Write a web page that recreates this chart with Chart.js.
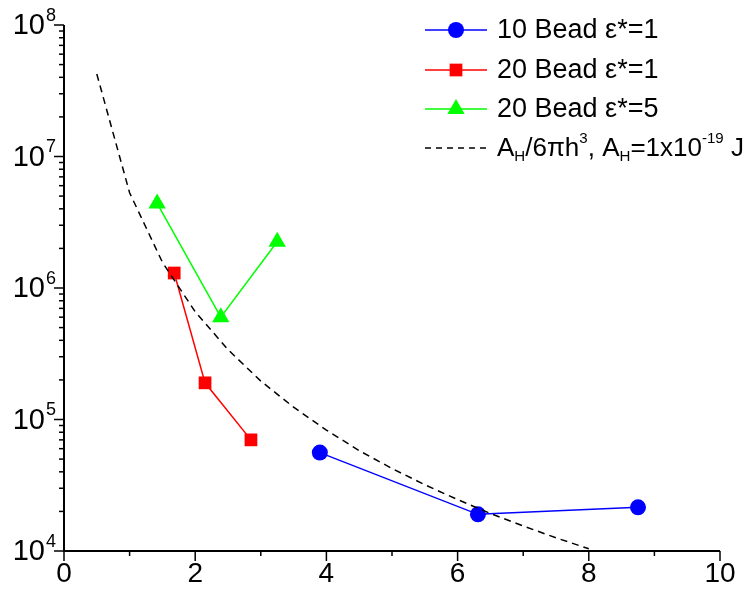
<!DOCTYPE html>
<html>
<head>
<meta charset="UTF-8">
<title>Pressao x distancia</title>
<script src="https://cdn.jsdelivr.net/npm/chart.js"></script>
<style>
    html, body { margin: 0; padding: 0; background: #fff; }
    #graficoContainer { width: 755px; height: 595px; }
</style>
</head>
<body>
<div id="graficoContainer">
    <canvas id="myChart" width="755" height="595"></canvas>
</div>
<script>
// dados
const bead10X = [3.90, 6.31, 8.75];
const bead10Y = [5.6e4, 1.9e4, 2.15e4];

const bead20X = [1.68, 2.15, 2.85];
const bead20Y = [1.3e6, 1.9e5, 7.0e4];

const bead20e5X = [1.42, 2.39, 3.25];
const bead20e5Y = [4.4e6, 6.0e5, 2.25e6];

// curva tracejada A_H/6*pi*h^3
const teoriaX = [0.5, 1.0, 1.5, 2.0, 2.5, 3.0, 3.5, 4.0, 4.5, 5.0, 5.5, 6.0, 6.5, 7.0, 7.5, 8.0];
const teoriaY = [4.24e7, 5.3e6, 1.57e6, 6.6e5, 3.4e5, 1.96e5, 1.24e5, 8.3e4, 5.8e4, 4.24e4, 3.19e4, 2.46e4, 1.93e4, 1.55e4, 1.26e4, 1.04e4];

const xTicks = [0, 2, 4, 6, 8, 10];
const xMinor = [1, 3, 5, 7, 9];
const yExpoentes = [4, 5, 6, 7, 8];

function pares(xs, ys) {
    return xs.map((x, i) => ({ x: x, y: ys[i] }));
}

const FONTE = '"Liberation Sans", Arial, sans-serif';

// desenha texto com sub/sobrescrito
function textoRico(ctx, partes, x, y, tam) {
    let cx = x;
    partes.forEach(p => {
        let t = tam, dy = 0;
        if (p.sub) { t = tam * 0.58; dy = tam * 0.3; }
        if (p.sup) { t = tam * 0.58; dy = -tam * 0.38; }
        ctx.font = t + 'px ' + FONTE;
        ctx.fillText(p.t, cx, y + dy);
        cx += ctx.measureText(p.t).width;
    });
}

const legenda = [
    { cor: '#0000ff', estilo: 'circle', raio: 8, tam: 27, tracejado: false, partes: [{ t: '10 Bead \u03b5*=1' }] },
    { cor: '#ff0000', estilo: 'rect', raio: 9, tam: 27, tracejado: false, partes: [{ t: '20 Bead \u03b5*=1' }] },
    { cor: '#00ff00', estilo: 'triangle', raio: 10, tam: 27, tracejado: false, partes: [{ t: '20 Bead \u03b5*=5' }] },
    { cor: '#000000', estilo: null, raio: 0, tam: 26, tracejado: true, partes: [
        { t: 'A' }, { t: 'H', sub: true }, { t: '/6\u03c0h' }, { t: '3', sup: true },
        { t: ', A' }, { t: 'H', sub: true }, { t: '=1x10' }, { t: '-19', sup: true }, { t: ' J' }
    ] }
];

const eixosPlugin = {
    id: 'eixos',
    afterDraw(chart) {
        const ctx = chart.ctx;
        const xs = chart.scales.x;
        const ys = chart.scales.y;
        const area = chart.chartArea;
        ctx.save();
        ctx.strokeStyle = '#000';
        ctx.fillStyle = '#000';
        ctx.lineWidth = 2;
        // linhas dos eixos
        ctx.beginPath();
        ctx.moveTo(area.left, area.top);
        ctx.lineTo(area.left, area.bottom);
        ctx.lineTo(area.right, area.bottom);
        ctx.stroke();

        // ticks do eixo x
        ctx.lineWidth = 1.5;
        xTicks.forEach(v => {
            const px = xs.getPixelForValue(v);
            ctx.beginPath();
            ctx.moveTo(px, area.bottom);
            ctx.lineTo(px, area.bottom + 10);
            ctx.stroke();
        });
        xMinor.forEach(v => {
            const px = xs.getPixelForValue(v);
            ctx.beginPath();
            ctx.moveTo(px, area.bottom);
            ctx.lineTo(px, area.bottom + 5);
            ctx.stroke();
        });
        ctx.font = '28px ' + FONTE;
        ctx.textAlign = 'center';
        ctx.textBaseline = 'top';
        xTicks.forEach(v => {
            ctx.fillText(String(v), xs.getPixelForValue(v), area.bottom + 9);
        });

        // ticks do eixo y (log)
        yExpoentes.forEach(e => {
            const py = ys.getPixelForValue(Math.pow(10, e));
            ctx.beginPath();
            ctx.moveTo(area.left, py);
            ctx.lineTo(area.left - 10, py);
            ctx.stroke();
            if (e < 8) {
                for (let m = 2; m <= 9; m++) {
                    const pm = ys.getPixelForValue(m * Math.pow(10, e));
                    ctx.beginPath();
                    ctx.moveTo(area.left, pm);
                    ctx.lineTo(area.left - 5, pm);
                    ctx.stroke();
                }
            }
        });
        ctx.textAlign = 'left';
        ctx.textBaseline = 'middle';
        yExpoentes.forEach(e => {
            const py = ys.getPixelForValue(Math.pow(10, e));
            ctx.font = '29px ' + FONTE;
            const w = ctx.measureText('10').width;
            ctx.font = '18px ' + FONTE;
            const we = ctx.measureText(String(e)).width;
            const x0 = area.left - 9 - we - w;
            ctx.font = '29px ' + FONTE;
            ctx.fillText('10', x0, py + 1);
            ctx.font = '18px ' + FONTE;
            ctx.fillText(String(e), x0 + w + 1, py - 9);
        });

        // legenda
        const lx0 = 425, lx1 = 487, tx = 497;
        const linhas = [30, 70, 109, 148];
        legenda.forEach((it, i) => {
            const y = linhas[i];
            ctx.strokeStyle = it.cor;
            ctx.fillStyle = it.cor;
            ctx.lineWidth = 1.5;
            ctx.setLineDash(it.tracejado ? [6, 5] : []);
            ctx.beginPath();
            ctx.moveTo(lx0, y);
            ctx.lineTo(lx1, y);
            ctx.stroke();
            ctx.setLineDash([]);
            if (it.estilo) {
                Chart.helpers.drawPoint(ctx, { pointStyle: it.estilo, radius: it.raio, rotation: 0, borderWidth: 0 }, (lx0 + lx1) / 2, y);
            }
            ctx.fillStyle = '#000';
            ctx.textBaseline = 'middle';
            textoRico(ctx, it.partes, tx, y + 1, it.tam);
        });
        ctx.restore();
    }
};

const ctx = document.getElementById('myChart').getContext('2d');
new Chart(ctx, {
    type: 'scatter',
    data: {
        datasets: [
            {
                label: 'teoria',
                data: pares(teoriaX, teoriaY),
                showLine: true,
                borderColor: '#000',
                borderWidth: 1.5,
                borderDash: [7, 5],
                pointRadius: 0,
                tension: 0
            },
            {
                label: '10 Bead e*=1',
                data: pares(bead10X, bead10Y),
                showLine: true,
                borderColor: '#0000ff',
                backgroundColor: '#0000ff',
                borderWidth: 1.5,
                pointStyle: 'circle',
                pointRadius: 8,
                pointBorderWidth: 0
            },
            {
                label: '20 Bead e*=1',
                data: pares(bead20X, bead20Y),
                showLine: true,
                borderColor: '#ff0000',
                backgroundColor: '#ff0000',
                borderWidth: 1.5,
                pointStyle: 'rect',
                pointRadius: 9,
                pointBorderWidth: 0
            },
            {
                label: '20 Bead e*=5',
                data: pares(bead20e5X, bead20e5Y),
                showLine: true,
                borderColor: '#00ff00',
                backgroundColor: '#00ff00',
                borderWidth: 1.5,
                pointStyle: 'triangle',
                pointRadius: 10,
                pointBorderWidth: 0
            }
        ]
    },
    options: {
        responsive: false,
        animation: false,
        layout: { padding: { left: 64, top: 25, right: 35, bottom: 44 } },
        plugins: { legend: { display: false }, tooltip: { enabled: false } },
        scales: {
            x: { type: 'linear', display: false, min: 0, max: 10 },
            y: { type: 'logarithmic', display: false, min: 1e4, max: 1e8 }
        }
    },
    plugins: [eixosPlugin]
});
</script>
</body>
</html>
